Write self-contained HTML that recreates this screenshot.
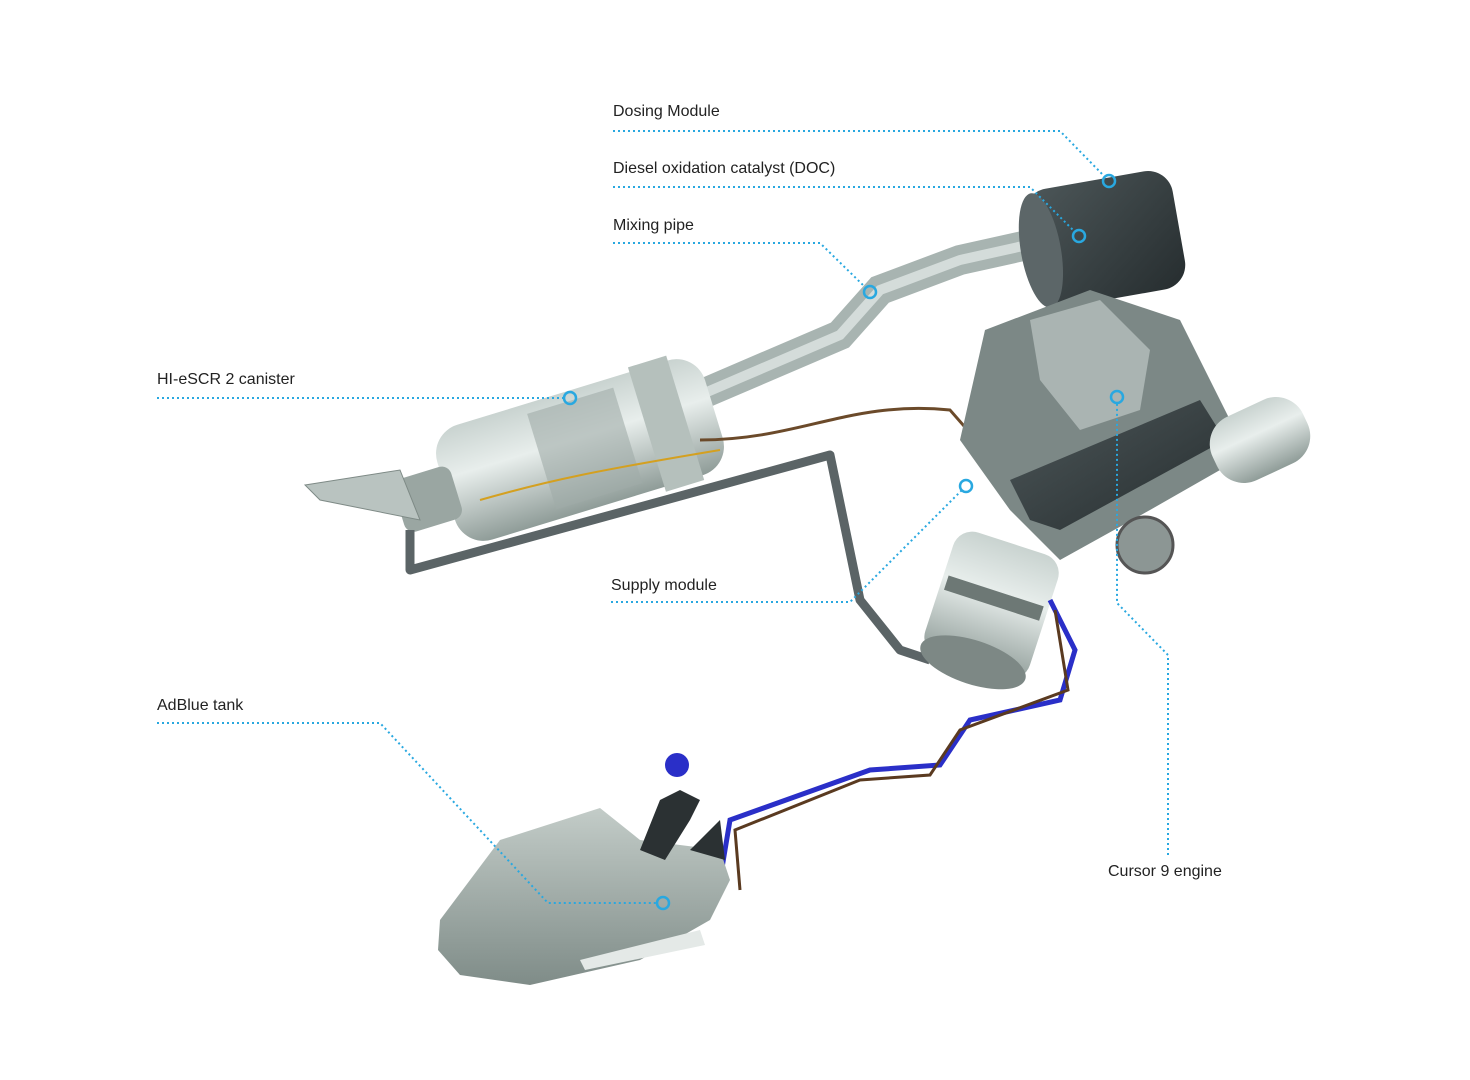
<!DOCTYPE html>
<html><head><meta charset="utf-8"><style>
html,body{margin:0;padding:0;background:#fff;}
svg{display:block}
text{font-family:"Liberation Sans",sans-serif;font-size:16px;fill:#222;}
</style></head><body>
<svg width="1470" height="1080" viewBox="0 0 1470 1080">
<defs>
<linearGradient id="cyl" x1="0" y1="0" x2="0" y2="1">
<stop offset="0" stop-color="#c9d3d0"/><stop offset="0.4" stop-color="#e8eeec"/><stop offset="1" stop-color="#8f9c98"/></linearGradient>
<linearGradient id="dark" x1="0" y1="0" x2="1" y2="1">
<stop offset="0" stop-color="#4d5759"/><stop offset="1" stop-color="#262d2f"/></linearGradient>
<linearGradient id="tank" x1="0" y1="0" x2="0" y2="1">
<stop offset="0" stop-color="#c3ccc8"/><stop offset="1" stop-color="#7f8c88"/></linearGradient>
</defs>

<!-- exhaust pipes -->
<path d="M700 395 L840 335 L880 290 L960 260 L1050 240" stroke="#a8b4b1" stroke-width="30" fill="none" stroke-linecap="round"/>
<path d="M700 395 L840 335 L880 290 L960 260 L1050 240" stroke="#d4dcda" stroke-width="10" fill="none"/>
<!-- canister -->
<g transform="rotate(-17 580 450)">
<rect x="440" y="390" width="280" height="120" rx="30" fill="url(#cyl)"/>
<rect x="650" y="385" width="40" height="130" fill="#b5c0bc"/>
<rect x="540" y="400" width="90" height="100" fill="#a0aca8" opacity="0.6"/>
<rect x="390" y="425" width="60" height="55" rx="10" fill="#9aa6a2"/>
</g>
<path d="M305 485 L400 470 L420 520 L320 500 Z" fill="#b9c3c0" stroke="#7e8a86"/>
<!-- lower pipe loop -->
<path d="M410 530 L410 570 L830 455 L860 600 L900 650 L930 660" stroke="#5b6466" stroke-width="9" fill="none" stroke-linejoin="round"/>
<path d="M700 440 C800 440 850 400 950 410 L985 450" stroke="#6b4a2a" stroke-width="3" fill="none"/>
<path d="M480 500 C550 480 600 470 720 450" stroke="#d4a020" stroke-width="2" fill="none"/>

<!-- DOC -->
<g transform="rotate(-10 1100 240)">
<rect x="1030" y="180" width="150" height="120" rx="25" fill="url(#dark)"/>
<ellipse cx="1040" cy="240" rx="20" ry="58" fill="#5c6668"/>
</g>
<!-- engine -->
<path d="M985 330 L1090 290 L1180 320 L1230 420 L1220 470 L1150 510 L1060 560 L1010 510 L960 440 Z" fill="#7c8886"/>
<path d="M1030 320 L1100 300 L1150 350 L1140 410 L1080 430 L1040 380 Z" fill="#aab4b2"/>
<path d="M1010 480 L1200 400 L1225 440 L1060 530 L1030 520 Z" fill="url(#dark)"/>
<circle cx="1145" cy="545" r="28" fill="#8c9694" stroke="#555" stroke-width="3"/>
<g transform="rotate(-25 1260 440)">
<rect x="1210" y="405" width="100" height="70" rx="30" fill="url(#cyl)"/>
</g>
<!-- supply canister -->
<g transform="rotate(18 990 610)">
<rect x="935" y="540" width="110" height="130" rx="20" fill="url(#cyl)"/>
<ellipse cx="990" cy="665" rx="55" ry="22" fill="#7d8885"/>
<rect x="940" y="590" width="100" height="15" fill="#6d7875"/>
</g>
<!-- blue/brown lines to tank -->
<path d="M1050 600 L1075 650 L1060 700 L970 720 L940 765 L870 770 L730 820 L720 880" stroke="#2a2fc8" stroke-width="5" fill="none"/>
<path d="M1055 610 L1068 690 L960 730 L930 775 L860 780 L735 830 L740 890" stroke="#5a3a20" stroke-width="3" fill="none"/>

<!-- AdBlue tank -->
<path d="M440 920 L500 840 L600 808 L640 840 L720 850 L730 880 L710 920 L640 960 L530 985 L460 975 L438 950 Z" fill="url(#tank)"/>
<path d="M580 960 L700 930 L705 945 L585 970 Z" fill="#e4e9e7"/>
<path d="M640 850 L660 800 L680 790 L700 800 L690 820 L665 860 Z" fill="#2b3133"/>
<circle cx="677" cy="765" r="12" fill="#2a2fc8"/>
<path d="M690 850 L720 820 L725 860 Z" fill="#2b3133"/>

<!-- callout lines -->
<g stroke="#29a8e0" stroke-width="2" stroke-dasharray="2 3" fill="none">
<path d="M613 131 L1060 131 L1105 177"/>
<path d="M613 187 L1030 187 L1075 232"/>
<path d="M613 243 L820 243 L866 288"/>
<path d="M157 398 L564 398"/>
<path d="M611 602 L850 602 L962 490"/>
<path d="M157 723 L380 723 L548 903 L657 903"/>
<path d="M1168 855 L1168 655 L1117 603 L1117 403"/>
</g>
<g stroke="#29a8e0" stroke-width="2.5" fill="none">
<circle cx="1109" cy="181" r="6"/>
<circle cx="1079" cy="236" r="6"/>
<circle cx="870" cy="292" r="6"/>
<circle cx="570" cy="398" r="6"/>
<circle cx="966" cy="486" r="6"/>
<circle cx="663" cy="903" r="6"/>
<circle cx="1117" cy="397" r="6"/>
</g>

<text x="613" y="116">Dosing Module</text>
<text x="613" y="173">Diesel oxidation catalyst (DOC)</text>
<text x="613" y="230">Mixing pipe</text>
<text x="157" y="384">HI-eSCR 2 canister</text>
<text x="611" y="590">Supply module</text>
<text x="157" y="710">AdBlue tank</text>
<text x="1108" y="876">Cursor 9 engine</text>
</svg>
</body></html>
